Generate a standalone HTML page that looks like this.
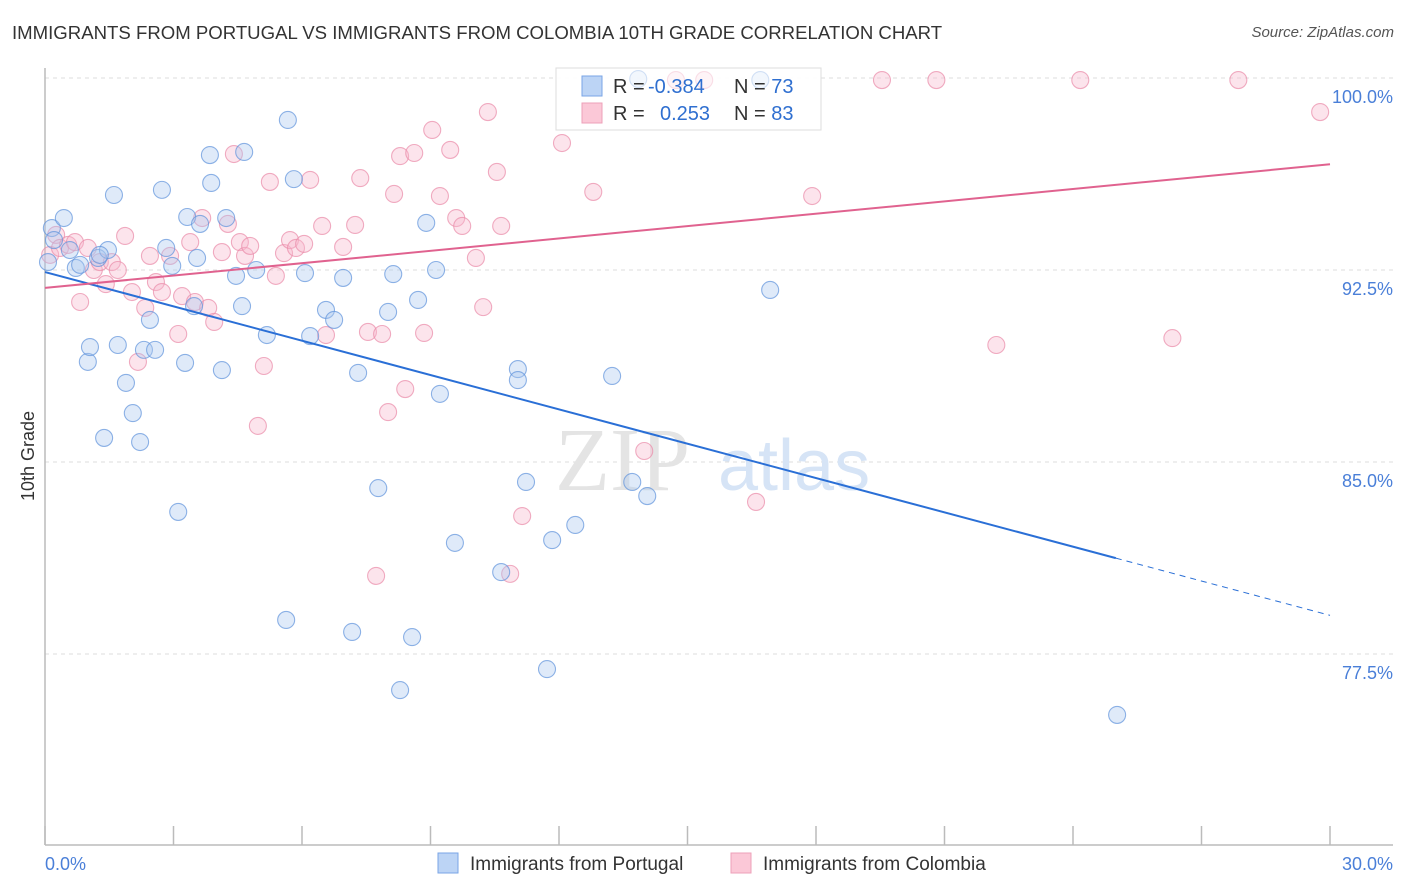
<!DOCTYPE html>
<html><head><meta charset="utf-8">
<style>
body{margin:0;background:#fff;font-family:"Liberation Sans",sans-serif;}
#wrap{position:relative;width:1406px;height:892px;overflow:hidden;}
.title{position:absolute;left:12px;top:22px;font-size:18.6px;color:#333;}
.source{position:absolute;right:12px;top:24px;font-size:15px;color:#555;font-style:italic;}
</style></head>
<body>
<div id="wrap">
<div class="title">IMMIGRANTS FROM PORTUGAL VS IMMIGRANTS FROM COLOMBIA 10TH GRADE CORRELATION CHART</div>
<div class="source">Source: ZipAtlas.com</div>
<svg id="chart" width="1406" height="892" style="position:absolute;left:0;top:0"></svg>
</div>
<script>
const blueX=[0.16,0.21,0.44,0.07,0.58,0.72,0.82,1.24,1.47,1.61,1.00,1.05,1.38,1.70,1.89,2.05,2.22,2.31,2.45,2.57,2.73,2.83,2.97,3.11,3.27,3.32,3.48,3.55,3.62,3.85,3.88,4.13,4.23,4.46,4.60,4.65,4.93,5.18,5.67,5.63,5.81,6.07,6.19,6.56,6.75,6.96,7.17,7.31,7.78,8.01,8.13,8.29,8.57,8.71,8.90,9.13,9.22,9.57,10.65,11.04,11.04,11.23,11.72,11.84,12.38,13.24,13.71,14.06,13.85,16.70,16.93,25.03,1.28];
const blueY=[94.14,93.67,94.53,92.81,93.28,92.58,92.70,92.97,93.28,95.43,88.91,89.49,85.94,89.57,88.09,86.91,85.78,89.38,90.55,89.38,95.63,93.36,92.66,83.05,88.87,94.57,91.09,92.97,94.30,96.99,95.90,88.59,94.53,92.27,91.09,97.11,92.50,89.96,98.36,78.83,96.05,92.38,89.92,90.94,90.55,92.19,78.36,88.48,83.98,90.86,92.34,76.09,78.16,91.33,94.34,92.50,87.66,81.84,80.70,88.63,88.20,84.22,76.91,81.95,82.54,88.36,84.22,83.67,99.96,99.92,91.72,75.12,93.09];
const pinkX=[0.12,0.26,0.35,0.54,0.70,0.82,1.00,1.14,1.28,1.42,1.56,1.70,1.87,2.03,2.17,2.34,2.45,2.59,2.73,2.92,3.11,3.20,3.39,3.50,3.67,3.81,3.95,4.13,4.27,4.41,4.55,4.67,4.79,4.97,5.11,5.25,5.39,5.58,5.72,5.86,6.05,6.19,6.47,6.56,6.96,7.24,7.36,7.54,7.73,7.87,8.01,8.15,8.29,8.41,8.62,8.85,9.04,9.22,9.46,9.60,9.74,10.06,10.23,10.34,10.55,10.65,10.86,11.14,12.07,12.80,13.99,14.73,15.39,16.60,17.91,19.54,20.81,22.21,24.17,26.32,27.86,29.77];
const pinkY=[93.09,93.87,93.36,93.48,93.59,91.25,93.36,92.50,92.81,91.95,92.81,92.50,93.83,91.64,88.91,91.02,93.05,92.03,91.64,93.05,90.00,91.48,93.59,91.25,94.53,91.02,90.47,93.20,94.30,97.03,93.59,93.05,93.44,86.41,88.75,95.94,92.27,93.16,93.67,93.36,93.52,96.02,94.22,89.96,93.40,94.26,96.09,90.08,80.55,90.00,86.95,95.47,96.95,87.85,97.07,90.04,97.97,95.39,97.19,94.53,94.22,92.97,91.05,98.67,96.33,94.22,80.63,82.89,97.46,95.55,85.43,99.92,99.92,83.44,95.39,99.92,99.92,89.57,99.92,89.84,99.92,98.67];
const blueLine=[92.42,-0.447]; // intercept, slope
const pinkLine=[91.80,0.161];
const yTicks=[100,92.5,85,77.5];
const yTickLabels=["100.0%","92.5%","85.0%","77.5%"];
const xTicks=[0,3,6,9,12,15,18,21,24,27,30];

const X0=45,X1=1330,Y100=78,PXY=25.6;
const sx=v=>X0+(v/30)*(X1-X0);
const sy=v=>Y100+(100-v)*PXY;
const svg=document.getElementById('chart');
const NS='http://www.w3.org/2000/svg';
function mk(t,a){const e=document.createElementNS(NS,t);for(const k in a)e.setAttribute(k,a[k]);svg.appendChild(e);return e;}

yTicks.forEach((v,i)=>{
  const g=mk('line',{x1:X0,x2:1393,y1:sy(v),y2:sy(v),stroke:'#ddd','stroke-dasharray':'4,4'});
  
  
  const t=mk('text',{x:1393,y:sy(v)+25,'text-anchor':'end','font-size':18,fill:'#4a7fd8','font-family':'Liberation Sans'});
  t.textContent=yTickLabels[i];
  
  
});
const ax=mk('line',{x1:X0,x2:X0,y1:68,y2:845,stroke:'#bbb','stroke-width':1.5});


const bx=mk('line',{x1:X0,x2:1393,y1:845,y2:845,stroke:'#bbb','stroke-width':1.5});


xTicks.forEach(v=>{
  const l=mk('line',{x1:sx(v),x2:sx(v),y1:826,y2:845,stroke:'#bbb','stroke-width':1.5});
  
  
});
const wm=mk('text',{x:555,y:490,'font-size':90,fill:'#e4e4e4','font-family':'Liberation Serif'});
wm.textContent='ZIP';


const wm2=mk('text',{x:718,y:490,'font-size':72,fill:'#d6e4f6','font-family':'Liberation Sans'});
wm2.textContent='atlas';



// legend box (under points, semi-transparent)
const lb=mk('rect',{x:556,y:68,width:265,height:62,fill:'#fff','fill-opacity':0.85,stroke:'#ddd'});



function pts(xs,ys,fill,stroke,name){
  xs.forEach((x,i)=>{
    const c=mk('circle',{cx:sx(x),cy:sy(ys[i]),r:8.5,fill:fill,'fill-opacity':0.38,stroke:stroke,'stroke-opacity':0.7,'stroke-width':1.1});
    
    
  });
}
pts(pinkX,pinkY,'#f7b9cc','#e98aa8','colombia-point');
pts(blueX,blueY,'#aac8f0','#5f93dc','portugal-point');

const bl=mk('line',{x1:sx(0),y1:sy(blueLine[0]),x2:sx(25),y2:sy(blueLine[0]+blueLine[1]*25),stroke:'#2a6fd6','stroke-width':2});


const bd=mk('line',{x1:sx(25),y1:sy(blueLine[0]+blueLine[1]*25),x2:sx(30),y2:sy(blueLine[0]+blueLine[1]*30),stroke:'#2a6fd6','stroke-width':1,'stroke-dasharray':'6,5'});


const pl=mk('line',{x1:sx(0),y1:sy(pinkLine[0]),x2:sx(30),y2:sy(pinkLine[0]+pinkLine[1]*30),stroke:'#e0628f','stroke-width':2});



// legend overlay (semi-transparent so points show faintly)
const lb2=mk('rect',{x:556,y:68,width:265,height:62,fill:'#fff','fill-opacity':0.6,stroke:'#ddd'});


function row(y,fill,stroke,r,n,nm){
  const s=mk('rect',{x:582,y:y-10,width:20,height:20,fill:fill,stroke:stroke});
  
  
  const t=mk('text',{x:613,y:y+7,'font-size':20,fill:'#333'});
  t.innerHTML='R = <tspan fill="#2f6fd0" x="'+(r[0]==='-'?648:660)+'">'+r+'</tspan><tspan x="734" fill="#333">N = </tspan><tspan fill="#2f6fd0">'+n+'</tspan>';
  
  
}
row(86,'#bcd4f5','#7aa5e6','-0.384','73','portugal');
row(113,'#fbc8d7','#eea0b8','0.253','83','colombia');

const xl0=mk('text',{x:45,y:870,'font-size':18,fill:'#4a7fd8'});xl0.textContent='0.0%';


const xl1=mk('text',{x:1393,y:870,'font-size':18,fill:'#4a7fd8','text-anchor':'end'});xl1.textContent='30.0%';


const yt=mk('text',{x:34,y:456,'font-size':18,fill:'#333','text-anchor':'middle',transform:'rotate(-90 34 456)'});yt.textContent='10th Grade';


function leg(x,fill,stroke,label,nm){
  const r=mk('rect',{x:x,y:853,width:20,height:20,fill:fill,stroke:stroke});
  
  
  const t=mk('text',{x:x+32,y:870,'font-size':19,fill:'#333'});t.textContent=label;
  
  
}
leg(438,'#bcd4f5','#7aa5e6','Immigrants from Portugal','portugal');
leg(731,'#fbc8d7','#eea0b8','Immigrants from Colombia','colombia');
</script>
</body></html>
